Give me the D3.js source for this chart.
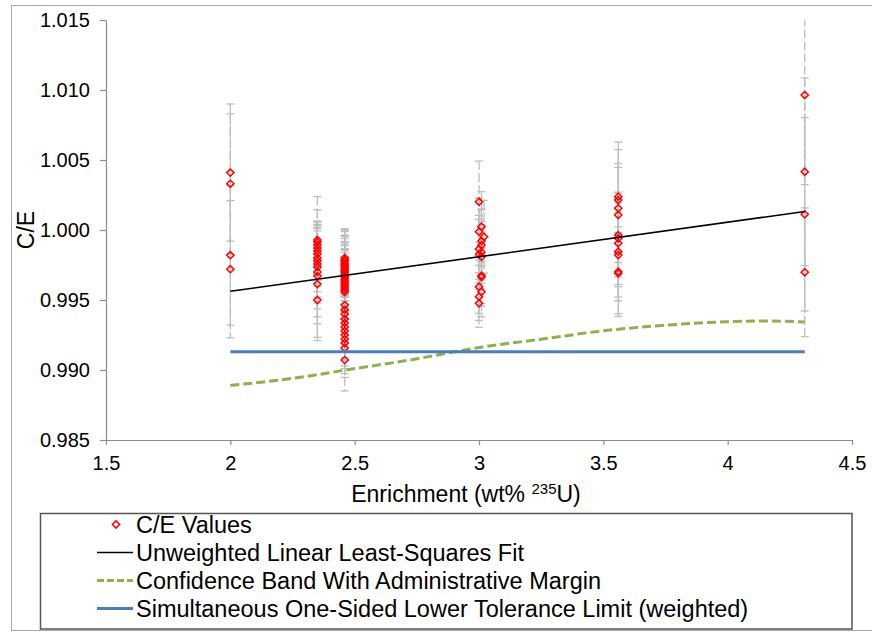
<!DOCTYPE html>
<html>
<head>
<meta charset="utf-8">
<script src="https://cdn.jsdelivr.net/npm/d3@7"></script>
<style>
  body { margin: 0; background: #fff; }
  text { font-family: "Liberation Sans", Arial, sans-serif; fill: #000; }
</style>
</head>
<body>
<svg id="chart" width="872" height="632"></svg>
<script>
// ---- Data -------------------------------------------------------------
// Enrichment (wt% 235U) of each critical experiment
const enrichment = [
  2.00, 2.00, 2.00, 2.00,
  2.35, 2.35, 2.35, 2.35, 2.35, 2.35, 2.35, 2.35, 2.35, 2.35, 2.35, 2.35, 2.35, 2.35,
  2.46, 2.46, 2.46, 2.46, 2.46, 2.46, 2.46, 2.46, 2.46, 2.46, 2.46, 2.46, 2.46, 2.46, 2.46, 2.46,
  2.46, 2.46, 2.46, 2.46, 2.46, 2.46, 2.46, 2.46, 2.46, 2.46, 2.46, 2.46, 2.46, 2.46, 2.46, 2.46,
  3.00, 3.01, 3.00, 3.02, 3.01, 3.01, 3.00, 3.01, 3.00, 3.01, 3.01, 3.01, 3.00, 3.01, 3.00, 3.00,
  3.56, 3.56, 3.56, 3.56, 3.56, 3.56, 3.56, 3.56, 3.56, 3.56, 3.56,
  4.31, 4.31, 4.31, 4.31
];
// Calculated-to-experimental k-eff ratio
const ceValues = [
  1.0041, 1.0033, 0.9982, 0.9972,
  0.99929, 0.99914, 0.99893, 0.99871, 0.99850, 0.99829, 0.99800, 0.99779, 0.99757, 0.99736,
  0.99700, 0.99671, 0.99614, 0.99500,
  0.99800, 0.99786, 0.99779, 0.99764, 0.99750, 0.99743, 0.99729, 0.99714, 0.99707, 0.99693,
  0.99679, 0.99671, 0.99657, 0.99643, 0.99629, 0.99614, 0.99600, 0.99586, 0.99571, 0.99557,
  0.99464, 0.99429, 0.99400, 0.99364, 0.99336, 0.99307, 0.99279, 0.99250, 0.99221, 0.99193,
  0.99157, 0.99071,
  1.00202, 1.00024, 0.99988, 0.99952, 0.99921, 0.99893, 0.99864, 0.99841, 0.99826, 0.99809,
  0.99674, 0.99664, 0.99595, 0.99559, 0.99524, 0.99476,
  1.00238, 1.00214, 1.00155, 1.00107, 0.99964, 0.99941, 0.99905, 0.99845, 0.99821, 0.99702, 0.99691,
  1.00964, 1.00416, 1.00112, 0.99698
];
// Combined uncertainty of each C/E value (error bar half-width)
const ceUncert = [
  0.0049, 0.0050, 0.0050, 0.0049,
  0.0031, 0.0023, 0.0017, 0.0019, 0.0021, 0.0023, 0.0024, 0.0026, 0.0028, 0.0030,
  0.0032, 0.0034, 0.0038, 0.0029,
  0.0021, 0.0022, 0.0021, 0.0023, 0.0021, 0.0022, 0.0021, 0.0024, 0.0021, 0.0022,
  0.0021, 0.0023, 0.0021, 0.0022, 0.0021, 0.0024, 0.0021, 0.0022, 0.0021, 0.0023,
  0.0021, 0.0022, 0.0021, 0.0023, 0.0021, 0.0022, 0.0021, 0.0022, 0.0021, 0.0022,
  0.0021, 0.0022,
  0.0029, 0.0025, 0.0024, 0.0026, 0.0023, 0.0025, 0.0024, 0.0022, 0.0025, 0.0023,
  0.0020, 0.0021, 0.0019, 0.0018, 0.0017, 0.0017,
  0.0039, 0.0036, 0.0032, 0.0034, 0.0030, 0.0033, 0.0031, 0.0035, 0.0030, 0.0032, 0.0029,
  0.0064, 0.0067, 0.0069, 0.0046
];

// Unweighted linear least-squares fit
const fitX = [2.00, 4.31];
const fitY = [0.99562, 1.00132];

// Confidence band with administrative margin
const bandX = [2.00, 2.25, 2.50, 2.75, 2.90, 3.00, 3.25, 3.50, 3.75, 4.00, 4.15, 4.31];
const bandY = [0.98890, 0.98940, 0.99010, 0.99080, 0.99130, 0.99160, 0.99220, 0.99280,
               0.99320, 0.99345, 0.99350, 0.99343];

// Simultaneous one-sided lower tolerance limit (weighted)
const tolX = [2.00, 4.31];
const tolY = [0.99130, 0.99130];

const xTicks = [1.5, 2, 2.5, 3, 3.5, 4, 4.5];
const yTicks = [0.985, 0.990, 0.995, 1.000, 1.005, 1.010, 1.015];

const legendLabels = [
  "C/E Values",
  "Unweighted Linear Least-Squares Fit",
  "Confidence Band With Administrative Margin",
  "Simultaneous One-Sided Lower Tolerance Limit (weighted)"
];

// ---- Layout -----------------------------------------------------------
const plot = { left: 106, right: 852, top: 20, bottom: 440 };
const colors = { marker: "#ff0000", err: "#bdbdbd", fit: "#000000", band: "#8fb04e", tol: "#4a7ebb", axis: "#8c8c8c" };

const svg = d3.select("#chart");

// chart frame
svg.append("rect")
  .attr("x", 11.5).attr("y", 5.5).attr("width", 880).attr("height", 625)
  .attr("fill", "none").attr("stroke", "#a8a8a8").attr("stroke-width", 1);

const x = d3.scaleLinear().domain([1.5, 4.5]).range([plot.left, plot.right]);
const y = d3.scaleLinear().domain([0.985, 1.015]).range([plot.bottom, plot.top]);

svg.append("clipPath").attr("id", "plotClip")
  .append("rect")
  .attr("x", plot.left).attr("y", plot.top)
  .attr("width", plot.right - plot.left).attr("height", plot.bottom - plot.top);

// ---- Axes -------------------------------------------------------------
const yAxis = svg.append("g")
  .attr("transform", `translate(${plot.left},0)`)
  .call(d3.axisLeft(y).tickValues(yTicks).tickFormat(d3.format(".3f"))
        .tickSize(6).tickSizeOuter(0).tickPadding(10));

const xAxis = svg.append("g")
  .attr("transform", `translate(0,${plot.bottom})`)
  .call(d3.axisBottom(x).tickValues(xTicks).tickFormat(d => String(d))
        .tickSize(5).tickSizeOuter(0).tickPadding(11));

[xAxis, yAxis].forEach(g => {
  g.select(".domain").attr("stroke", colors.axis).attr("stroke-width", 1.2);
  g.selectAll(".tick line").attr("stroke", colors.axis).attr("stroke-width", 1.2);
  g.selectAll(".tick text").attr("font-size", 20).attr("fill", "#000")
    .attr("font-family", '"Liberation Sans", Arial, sans-serif');
});

// axis titles
svg.append("text")
  .attr("transform", `translate(34,${(plot.top + plot.bottom) / 2}) rotate(-90)`)
  .attr("text-anchor", "middle")
  .attr("font-size", 23)
  .text("C/E");

const xTitle = svg.append("text")
  .attr("x", 466)
  .attr("y", 502)
  .attr("text-anchor", "middle")
  .attr("font-size", 23);
xTitle.append("tspan").text("Enrichment (wt% ");
xTitle.append("tspan").attr("font-size", 15).attr("dy", -8).text("235");
xTitle.append("tspan").attr("dy", 8).text("U)");

// ---- Marks ------------------------------------------------------------
const points = enrichment.map((e, i) => ({ x: e, v: ceValues[i], u: ceUncert[i] }));
const plotArea = svg.append("g").attr("clip-path", "url(#plotClip)");

// error bars
const errG = plotArea.append("g").attr("stroke", colors.err).attr("stroke-width", 1.3);
errG.selectAll("line.bar").data(points).join("line")
  .attr("class", "bar")
  .attr("x1", d => x(d.x)).attr("x2", d => x(d.x))
  .attr("y1", d => y(d.v + d.u)).attr("y2", d => y(d.v - d.u))
  .attr("stroke-dasharray", "9,3");
const caps = points.flatMap(d => [{ x: d.x, v: d.v + d.u }, { x: d.x, v: d.v - d.u }]);
errG.selectAll("line.cap").data(caps).join("line")
  .attr("class", "cap")
  .attr("x1", d => x(d.x) - 4).attr("x2", d => x(d.x) + 4)
  .attr("y1", d => y(d.v)).attr("y2", d => y(d.v));

// diamond markers
const diamond = "M0,-3.6L3.6,0L0,3.6L-3.6,0Z";
plotArea.append("g").selectAll("path").data(points).join("path")
  .attr("d", diamond)
  .attr("transform", d => `translate(${x(d.x)},${y(d.v)})`)
  .attr("fill", "none")
  .attr("stroke", colors.marker)
  .attr("stroke-width", 1.5);

// fitted and limit curves
const line = d3.line().x(d => x(d[0])).y(d => y(d[1]));
const curved = d3.line().x(d => x(d[0])).y(d => y(d[1])).curve(d3.curveMonotoneX);

plotArea.append("path")
  .datum(fitX.map((v, i) => [v, fitY[i]]))
  .attr("d", line).attr("fill", "none")
  .attr("stroke", colors.fit).attr("stroke-width", 1.6);

plotArea.append("path")
  .datum(bandX.map((v, i) => [v, bandY[i]]))
  .attr("d", curved).attr("fill", "none")
  .attr("stroke", colors.band).attr("stroke-width", 3)
  .attr("stroke-dasharray", "9,4");

plotArea.append("path")
  .datum(tolX.map((v, i) => [v, tolY[i]]))
  .attr("d", line).attr("fill", "none")
  .attr("stroke", colors.tol).attr("stroke-width", 3);

// ---- Legend -----------------------------------------------------------
const legend = svg.append("g");
legend.append("rect")
  .attr("x", 40.5).attr("y", 513.5).attr("width", 811.5).attr("height", 115.5)
  .attr("fill", "#fff").attr("stroke", "#555").attr("stroke-width", 1.5);

const rowY = i => 524.5 + i * 28;
const sampleX0 = 97, sampleX1 = 133, textX = 136;

legend.append("path")
  .attr("d", diamond)
  .attr("transform", `translate(${(sampleX0 + sampleX1) / 2 + 1},${rowY(0)})`)
  .attr("fill", "none").attr("stroke", colors.marker).attr("stroke-width", 1.5);

const legendLines = [
  { row: 1, stroke: colors.fit, width: 1.6, dash: null },
  { row: 2, stroke: colors.band, width: 3, dash: "7,3" },
  { row: 3, stroke: colors.tol, width: 3, dash: null }
];
legend.selectAll("line.sample").data(legendLines).join("line")
  .attr("class", "sample")
  .attr("x1", sampleX0).attr("x2", sampleX1)
  .attr("y1", d => rowY(d.row)).attr("y2", d => rowY(d.row))
  .attr("stroke", d => d.stroke).attr("stroke-width", d => d.width)
  .attr("stroke-dasharray", d => d.dash);

legend.selectAll("text").data(legendLabels).join("text")
  .attr("x", textX)
  .attr("y", (d, i) => rowY(i))
  .attr("dy", "0.35em")
  .attr("font-size", 23.5)
  .text(d => d);
</script>
</body>
</html>
